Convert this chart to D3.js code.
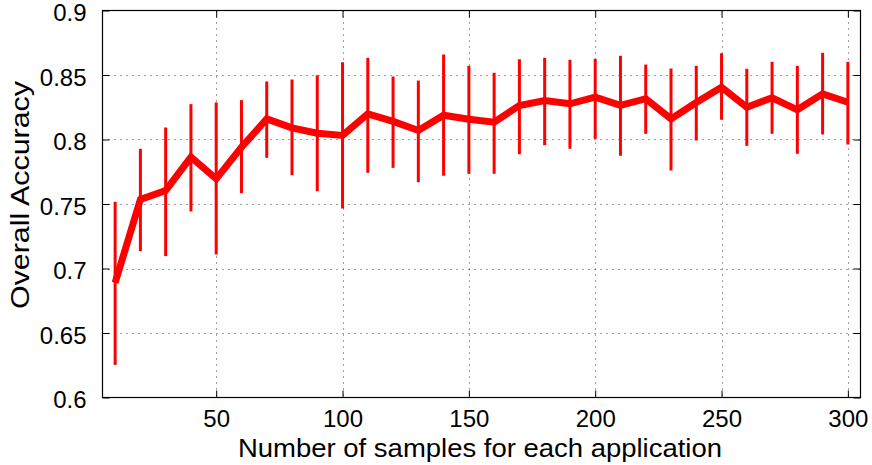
<!DOCTYPE html>
<html>
<head>
<meta charset="utf-8">
<script src="https://cdn.jsdelivr.net/npm/d3@7"></script>
<style>
  html, body { margin: 0; padding: 0; background: #fff; }
  svg { display: block; }
  text { font-family: "Liberation Sans", Arial, Helvetica, sans-serif; }
</style>
</head>
<body>
<svg id="chart" width="872" height="465"></svg>
<script>
// ---- data ----
const samples = [10,20,30,40,50,60,70,80,90,100,110,120,130,140,150,160,170,180,190,200,210,220,230,240,250,260,270,280,290,300];
const accuracy = [0.689,0.7535,0.7605,0.7863,0.7695,0.794,0.816,0.809,0.8049,0.8031,0.8199,0.814,0.807,0.8188,0.8157,0.8134,0.8264,0.8302,0.8277,0.8328,0.8264,0.8316,0.816,0.8287,0.8405,0.825,0.8323,0.823,0.8354,0.8289];
const upper = [0.7517,0.7928,0.8093,0.8274,0.8287,0.8305,0.845,0.8465,0.8498,0.8599,0.8633,0.8488,0.8457,0.8659,0.8571,0.8517,0.8622,0.8633,0.8618,0.8625,0.8649,0.8581,0.855,0.8571,0.8669,0.8548,0.8602,0.8571,0.8672,0.8602];
const lower = [0.6253,0.7134,0.7096,0.7442,0.7109,0.7584,0.7858,0.7723,0.7599,0.7465,0.7742,0.778,0.7669,0.7719,0.7734,0.7734,0.7886,0.7956,0.7928,0.8005,0.7874,0.8044,0.776,0.7992,0.8153,0.7951,0.8044,0.7889,0.8039,0.7961];
const xTicks = [50,100,150,200,250,300];
const yTicks = [0.6,0.65,0.7,0.75,0.8,0.85,0.9];
const xLabel = "Number of samples for each application";
const yLabel = "Overall Accuracy";

// ---- layout ----
const svg = d3.select("#chart");
const L = 102.5, R = 860.5, T = 10.5, B = 397.5;
const x = d3.scaleLinear().domain([5, 305]).range([L, R]);
const y = d3.scaleLinear().domain([0.6, 0.9]).range([B, T]);
const fontSize = 24;

// grid
const grid = svg.append("g").attr("stroke", "#444").attr("stroke-width", 1).attr("stroke-dasharray", "1,5");
grid.selectAll("line.gx").data(xTicks).join("line")
  .attr("x1", d => Math.round(x(d)) + 0.5).attr("x2", d => Math.round(x(d)) + 0.5)
  .attr("y1", T).attr("y2", B);
grid.selectAll("line.gy").data(yTicks.filter(d => d > 0.6 && d < 0.9)).join("line")
  .attr("x1", L).attr("x2", R)
  .attr("y1", d => Math.round(y(d)) + 0.5).attr("y2", d => Math.round(y(d)) + 0.5);

// axes (ticks inward)
const tickLen = 7;
const axB = d3.axisBottom(x).tickValues(xTicks).tickSizeInner(-tickLen).tickSizeOuter(0).tickPadding(tickLen + 5).tickFormat(d3.format("d"));
const axT = d3.axisTop(x).tickValues(xTicks).tickSizeInner(-tickLen).tickSizeOuter(0).tickFormat("");
const axL = d3.axisLeft(y).tickValues(yTicks).tickSizeInner(-tickLen).tickSizeOuter(0).tickPadding(tickLen + 9).tickFormat(d => d3.format("")(+d.toFixed(2)));
const axR = d3.axisRight(y).tickValues(yTicks).tickSizeInner(-tickLen).tickSizeOuter(0).tickFormat("");

function style(g) {
  g.select(".domain").remove();
  g.selectAll(".tick line").attr("stroke", "#000").attr("stroke-width", 1);
  g.selectAll("text").attr("font-size", fontSize).attr("fill", "#000")
    .attr("font-family", '"Liberation Sans", Arial, sans-serif');
}
svg.append("g").attr("transform", `translate(0,${B})`).call(axB).call(style);
svg.append("g").attr("transform", `translate(0,${T})`).call(axT).call(style);
svg.append("g").attr("transform", `translate(${L},0)`).call(axL).call(style)
  .selectAll(".tick text").attr("dy", "0.42em");
svg.append("g").attr("transform", `translate(${R},0)`).call(axR).call(style);

// box
svg.append("rect").attr("x", L).attr("y", T).attr("width", R - L).attr("height", B - T)
  .attr("fill", "none").attr("stroke", "#000").attr("stroke-width", 1.2);

// error bars
svg.append("g").selectAll("line").data(samples).join("line")
  .attr("x1", (d) => x(d)).attr("x2", (d) => x(d))
  .attr("y1", (d, i) => y(upper[i])).attr("y2", (d, i) => y(lower[i]))
  .attr("stroke", "#ff0000").attr("stroke-width", 3);

// mean line
const line = d3.line().x((d) => x(d)).y((d, i) => y(accuracy[i]));
svg.append("path").datum(samples).attr("d", line)
  .attr("fill", "none").attr("stroke", "#ff0000").attr("stroke-width", 7)
  .attr("stroke-linejoin", "miter").attr("stroke-miterlimit", 3);

// labels
svg.append("text").attr("x", 480).attr("y", 457)
  .attr("text-anchor", "middle").attr("font-size", 26)
  .attr("textLength", 484).attr("lengthAdjust", "spacingAndGlyphs").text(xLabel);
svg.append("text").attr("transform", `translate(29,195) rotate(-90)`)
  .attr("text-anchor", "middle").attr("font-size", 26)
  .attr("textLength", 228).attr("lengthAdjust", "spacingAndGlyphs").text(yLabel);
</script>
</body>
</html>
